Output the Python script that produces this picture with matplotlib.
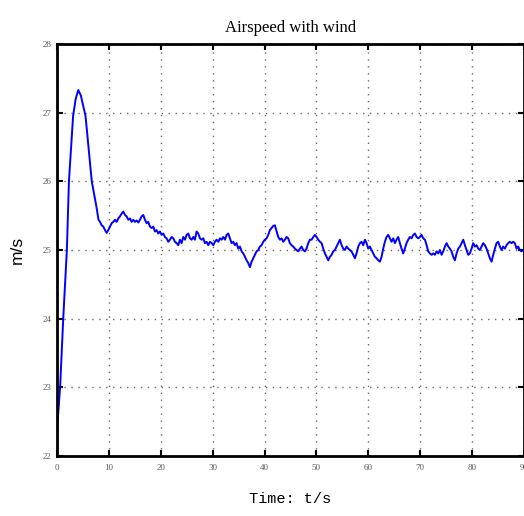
import matplotlib.pyplot as plt

# airspeed readings: time (s) and speed (m/s)
t_rise = [0, 0.3, 0.6, 1.2, 1.9, 2.3, 3.1, 3.6, 4.1, 4.6, 5.5, 6.7, 7.6, 8.0]
v_rise = [22.38, 22.7, 23.0, 24.0, 25.0, 26.0, 26.95, 27.2, 27.33, 27.25,
          26.95, 26.0, 25.63, 25.44]

t_a = [8.29, 8.61, 8.93, 9.25, 9.57, 9.89, 10.21, 10.53, 10.85, 11.17, 11.50,
       11.82, 12.14, 12.46, 12.78, 13.10, 13.42, 13.74, 14.06, 14.38, 14.70,
       15.02, 15.35, 15.67, 15.99, 16.31, 16.63, 16.95, 17.27, 17.59, 17.92,
       18.24, 18.56, 18.88, 19.20, 19.52, 19.84, 20.16, 20.48, 20.80, 21.12,
       21.44, 21.77, 22.09, 22.41, 22.73, 23.05, 23.37, 23.69, 24.01, 24.33,
       24.66, 24.98, 25.30, 25.62, 25.94, 26.26, 26.58, 26.90, 27.22, 27.55,
       27.87, 28.19, 28.51, 28.83, 29.15, 29.47]
v_a = [25.41, 25.36, 25.34, 25.29, 25.25, 25.29, 25.34, 25.39, 25.41, 25.44,
       25.41, 25.46, 25.49, 25.53, 25.56, 25.51, 25.49, 25.44, 25.46, 25.41,
       25.44, 25.41, 25.43, 25.40, 25.44, 25.49, 25.51, 25.44, 25.39, 25.41,
       25.34, 25.32, 25.34, 25.27, 25.29, 25.24, 25.27, 25.22, 25.24, 25.19,
       25.17, 25.12, 25.15, 25.19, 25.17, 25.12, 25.10, 25.07, 25.15, 25.10,
       25.19, 25.15, 25.22, 25.24, 25.17, 25.15, 25.19, 25.15, 25.27, 25.24,
       25.17, 25.15, 25.17, 25.10, 25.12, 25.07, 25.12]

t_b = [29.80, 30.12, 30.44, 30.76, 31.08, 31.40, 31.72, 32.04, 32.37, 32.69,
       33.01, 33.33, 33.65, 33.97, 34.29, 34.61, 34.93, 35.25, 35.58, 35.90,
       36.22, 36.54, 36.86, 37.18, 37.50, 37.82, 38.14, 38.46, 38.79, 39.11,
       39.43, 39.75, 40.07, 40.39, 40.71, 41.03, 41.35, 41.67, 42.00, 42.32,
       42.64, 42.96, 43.28, 43.60, 43.92, 44.24, 44.56, 44.88, 45.21, 45.53,
       45.85, 46.17, 46.49, 46.81, 47.13, 47.45, 47.77, 48.09, 48.42, 48.74]
v_b = [25.10, 25.07, 25.12, 25.15, 25.12, 25.17, 25.15, 25.19, 25.15, 25.22,
       25.24, 25.17, 25.10, 25.12, 25.07, 25.10, 25.02, 25.05, 24.98, 24.95,
       24.90, 24.85, 24.81, 24.75, 24.83, 24.88, 24.93, 24.98, 25.00, 25.05,
       25.07, 25.12, 25.15, 25.17, 25.22, 25.29, 25.32, 25.35, 25.36, 25.27,
       25.19, 25.15, 25.17, 25.12, 25.15, 25.19, 25.17, 25.10, 25.07, 25.05,
       25.02, 25.00, 24.98, 25.02, 25.05, 25.00, 24.98, 25.02, 25.10, 25.15]

t_c = [49.07, 49.39, 49.71, 50.03, 50.35, 50.67, 50.99, 51.31, 51.64, 51.96,
       52.28, 52.60, 52.92, 53.24, 53.56, 53.88, 54.20, 54.52, 54.85, 55.17,
       55.49, 55.81, 56.13, 56.45, 56.77, 57.09, 57.41, 57.73, 58.06, 58.38,
       58.70, 59.02, 59.34, 59.66, 59.98, 60.30, 60.62, 60.94, 61.27, 61.59,
       61.91, 62.23, 62.55, 62.87, 63.19, 63.51, 63.83, 64.15, 64.48, 64.80,
       65.12, 65.44, 65.76, 66.08, 66.40, 66.72, 67.04, 67.36, 67.69, 68.01]
v_c = [25.15, 25.19, 25.22, 25.19, 25.15, 25.12, 25.10, 25.02, 24.95, 24.90,
       24.85, 24.90, 24.93, 24.98, 25.00, 25.05, 25.10, 25.15, 25.07, 25.02,
       25.00, 25.05, 25.02, 25.00, 24.98, 24.93, 24.88, 24.95, 25.05, 25.10,
       25.12, 25.07, 25.15, 25.10, 25.02, 25.05, 25.00, 24.95, 24.90, 24.88,
       24.85, 24.83, 24.90, 25.02, 25.12, 25.19, 25.22, 25.17, 25.12, 25.17,
       25.10, 25.15, 25.19, 25.10, 25.02, 24.95, 25.02, 25.10, 25.15, 25.19]

t_d = [68.34, 68.66, 68.98, 69.30, 69.62, 69.94, 70.26, 70.58, 70.91, 71.23,
       71.55, 71.87, 72.19, 72.51, 72.83, 73.15, 73.47, 73.79, 74.12, 74.44,
       74.76, 75.08, 75.40, 75.72, 76.04, 76.36, 76.68, 77.00, 77.33, 77.65,
       77.97, 78.29, 78.61, 78.93, 79.25, 79.57, 79.89, 80.21, 80.54, 80.86,
       81.18, 81.50, 81.82, 82.14, 82.46, 82.78, 83.10, 83.42, 83.75, 84.07,
       84.39, 84.71, 85.03, 85.35, 85.67, 85.99, 86.31, 86.63, 86.96, 87.28,
       87.60, 87.92, 88.24, 88.56, 88.88, 89.20, 89.52, 89.84, 90.0]
v_d = [25.17, 25.22, 25.24, 25.19, 25.17, 25.19, 25.22, 25.17, 25.15, 25.07,
       24.98, 24.95, 24.93, 24.95, 24.93, 24.98, 24.95, 25.00, 24.93, 24.98,
       25.05, 25.10, 25.05, 25.02, 24.98, 24.90, 24.85, 24.95, 25.02, 25.05,
       25.10, 25.15, 25.07, 25.00, 24.93, 24.95, 25.02, 25.10, 25.05, 25.07,
       25.02, 25.00, 25.05, 25.10, 25.07, 25.02, 24.95, 24.88, 24.83, 24.93,
       25.02, 25.10, 25.12, 25.05, 25.00, 25.05, 25.02, 25.07, 25.10, 25.12,
       25.10, 25.12, 25.10, 25.02, 25.05, 25.00, 24.98, 25.00, 25.00]

t = t_rise + t_a + t_b + t_c + t_d
v = v_rise + v_a + v_b + v_c + v_d

xticks = [0, 10, 20, 30, 40, 50, 60, 70, 80, 90]
yticks = [22, 23, 24, 25, 26, 27, 28]

fig = plt.figure(figsize=(5.24, 5.16), dpi=100)
ax = fig.add_axes([57/524, 1 - 456/516, 1 - 57/524, 412/516])

ax.plot(t, v, color='#0000ff', lw=1.4)
ax.set_xlim(0, 90)
ax.set_ylim(22, 28)
ax.set_xticks(xticks)
ax.set_yticks(yticks)
ax.grid(True, linestyle=(0, (1, 4)), color='0.4', lw=1.0)

for s in ax.spines.values():
    s.set_linewidth(2)
ax.tick_params(direction='in', length=4, width=1.5, top=True, right=True,
               labelsize=6.5, labelcolor='0.35')
for lab in ax.get_xticklabels() + ax.get_yticklabels():
    lab.set_family('Liberation Serif')
ax.tick_params(axis='x', pad=6)
ax.tick_params(axis='y', pad=4)

ax.set_title('Airspeed with wind', family='Liberation Serif', fontsize=12,
             pad=9)
ax.set_xlabel('Time: t/s', family='Liberation Mono', fontsize=11,
              labelpad=14)
ax.set_ylabel('m/s', family='Liberation Sans', fontsize=12.5, labelpad=13)

plt.savefig('out.png', dpi=100)
